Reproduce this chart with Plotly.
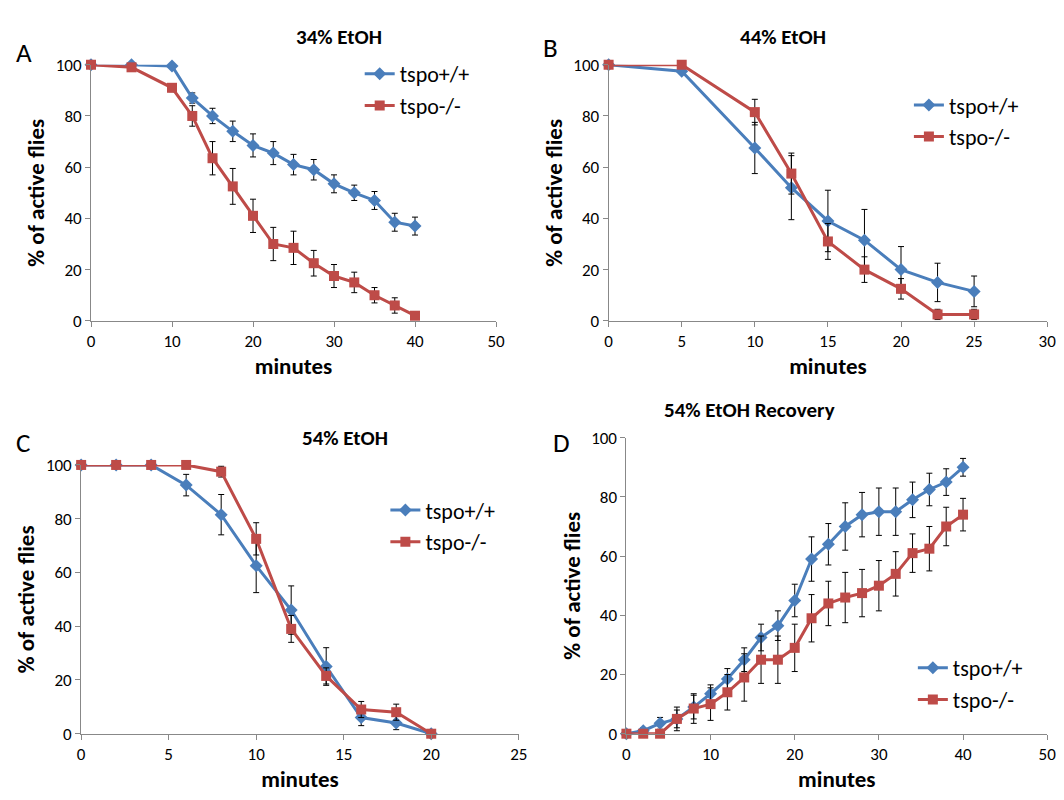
import plotly.graph_objects as go

BLUE = "#4a7ebb"
RED = "#be4b48"

# panel A: 34% EtOH
a_x = [0, 5, 10, 12.5, 15, 17.5, 20, 22.5, 25, 27.5, 30, 32.5, 35, 37.5, 40]
a_wt = [100, 100, 99.5, 87, 80, 74, 68.5, 65.5, 61, 59, 53.5, 50, 47, 38.5, 37]
a_wt_err = [0, 0, 0, 2, 3, 4, 4.5, 4.5, 4, 4, 3.5, 3, 3.5, 3.5, 3.5]
a_ko = [100, 99, 91, 80, 63.5, 52.5, 41, 30, 28.5, 22.5, 17.5, 15, 10, 6, 2]
a_ko_err = [0, 1, 1.5, 4, 6.5, 7, 6.5, 6.5, 6.5, 5, 4.5, 4, 3, 3, 0]

# panel B: 44% EtOH
b_x = [0, 5, 10, 12.5, 15, 17.5, 20, 22.5, 25]
b_wt = [100, 97.5, 67.5, 52, 39, 31.5, 20, 15, 11.5]
b_wt_err = [0, 0, 10, 12.5, 12, 12, 9, 7.5, 6]
b_ko = [100, 100, 81.5, 57.5, 31, 20, 12.5, 2.5, 2.5]
b_ko_err = [0, 0, 5, 8, 7, 5, 4, 2, 2]

# panel C: 54% EtOH
c_x = [0, 2, 4, 6, 8, 10, 12, 14, 16, 18, 20]
c_wt = [100, 100, 100, 92.5, 81.5, 62.5, 46, 25, 6, 4, 0]
c_wt_err = [0, 0, 0, 4, 7.5, 10, 9, 7, 3, 2.5, 0]
c_ko = [100, 100, 100, 100, 97.5, 72.5, 39, 21.5, 9, 8, 0]
c_ko_err = [0, 0, 0, 0, 2, 6, 5, 3, 3, 3, 0]

# panel D: 54% EtOH recovery
d_x = list(range(0, 41, 2))
d_wt = [0, 1, 3.5, 5, 9, 13.5, 18.5, 25, 32.5, 36.5, 45, 59, 64, 70, 74, 75, 75, 79, 82.5, 85, 90]
d_wt_err = [0, 1, 2, 3, 4, 3, 3.5, 4, 4.5, 5, 5.5, 7.5, 7, 8, 7.5, 8, 8, 6, 5.5, 4.5, 3]
d_ko = [0, 0, 0, 5, 8.5, 10, 14, 19, 25, 25, 29, 39, 44, 46, 47.5, 50, 54, 61, 62.5, 70, 74]
d_ko_err = [0, 0, 0, 4, 5, 5.5, 6, 8, 8, 8, 8, 8, 7.5, 8.5, 8, 8.5, 7.5, 6.5, 7.5, 6.5, 5.5]

W, H = 1064, 800
panels = [
    # data, title, xmax, xdtick, x0px, x1px, ytop, ybot, legend pos, letter pos
    (a_x, a_wt, a_wt_err, a_ko, a_ko_err, "34% EtOH", 50, 10, 80, 490, 48, 311, (352, 36), (2, 35)),
    (b_x, b_wt, b_wt_err, b_ko, b_ko_err, "44% EtOH", 30, 5, 604, 1048, 48, 311, (908, 68), (536, 30)),
    (c_x, c_wt, c_wt_err, c_ko, c_ko_err, "54% EtOH", 25, 5, 70, 513, 459, 735, (378, 484), (2, 436)),
    (d_x, d_wt, d_wt_err, d_ko, d_ko_err, "54% EtOH Recovery", 50, 10, 622, 1048, 431, 735, (912, 646), (546, 436)),
]

fig = go.Figure()
font = "Calibri, Carlito, Open Sans, sans-serif"
for i, (x, wt, wte, ko, koe, title, xmax, dt, x0, x1, yt, yb, lg, lt) in enumerate(panels):
    n = "" if i == 0 else str(i + 1)
    leg = "legend" if i == 0 else "legend" + n
    fig.add_trace(go.Scatter(x=x, y=wt, name="tspo+/+", mode="lines+markers",
                             line=dict(color=BLUE, width=3), cliponaxis=False,
                             marker=dict(symbol="diamond", size=10, color=BLUE),
                             error_y=dict(array=wte, color="black", thickness=1, width=3),
                             xaxis="x" + n, yaxis="y" + n, legend=leg))
    fig.add_trace(go.Scatter(x=x, y=ko, name="tspo-/-", mode="lines+markers",
                             line=dict(color=RED, width=3), cliponaxis=False,
                             marker=dict(symbol="square", size=10, color=RED),
                             error_y=dict(array=koe, color="black", thickness=1, width=3),
                             xaxis="x" + n, yaxis="y" + n, legend=leg))
    ax = dict(showline=True, linecolor="#888", linewidth=1, ticks="outside", tickcolor="#888",
              showgrid=False, zeroline=False, tickfont=dict(size=17, color="black"))
    fig.layout["xaxis" + n] = dict(ax, domain=[x0 / W, x1 / W], range=[0, xmax], dtick=dt,
                                   anchor="y" + n,
                                   title=dict(text="<b>minutes</b>", font=dict(size=23), standoff=2))
    fig.layout["yaxis" + n] = dict(ax, domain=[1 - yb / H, 1 - yt / H], range=[0, 100], dtick=20,
                                   anchor="x" + n,
                                   title=dict(text="<b>% of active flies</b>", font=dict(size=23), standoff=4))
    fig.layout[leg] = dict(x=lg[0] / W, y=1 - lg[1] / H, xanchor="left", yanchor="top",
                           font=dict(size=22), bgcolor="rgba(0,0,0,0)", tracegroupgap=0)
    fig.add_annotation(x=(x0 + x1) / 2 / W, y=1 - (yt - 28) / H, xref="paper", yref="paper",
                       text="<b>" + title + "</b>", showarrow=False, font=dict(size=21),
                       yanchor="middle")
    fig.add_annotation(x=lt[0] / W, y=1 - lt[1] / H, xref="paper", yref="paper",
                       text="ABCD"[i], showarrow=False, font=dict(size=27),
                       xanchor="left", yanchor="middle")

fig.update_layout(width=W, height=H, margin=dict(l=0, r=0, t=0, b=0),
                  plot_bgcolor="white", paper_bgcolor="white",
                  font=dict(family=font, color="black"))
fig.write_html("out.html")
